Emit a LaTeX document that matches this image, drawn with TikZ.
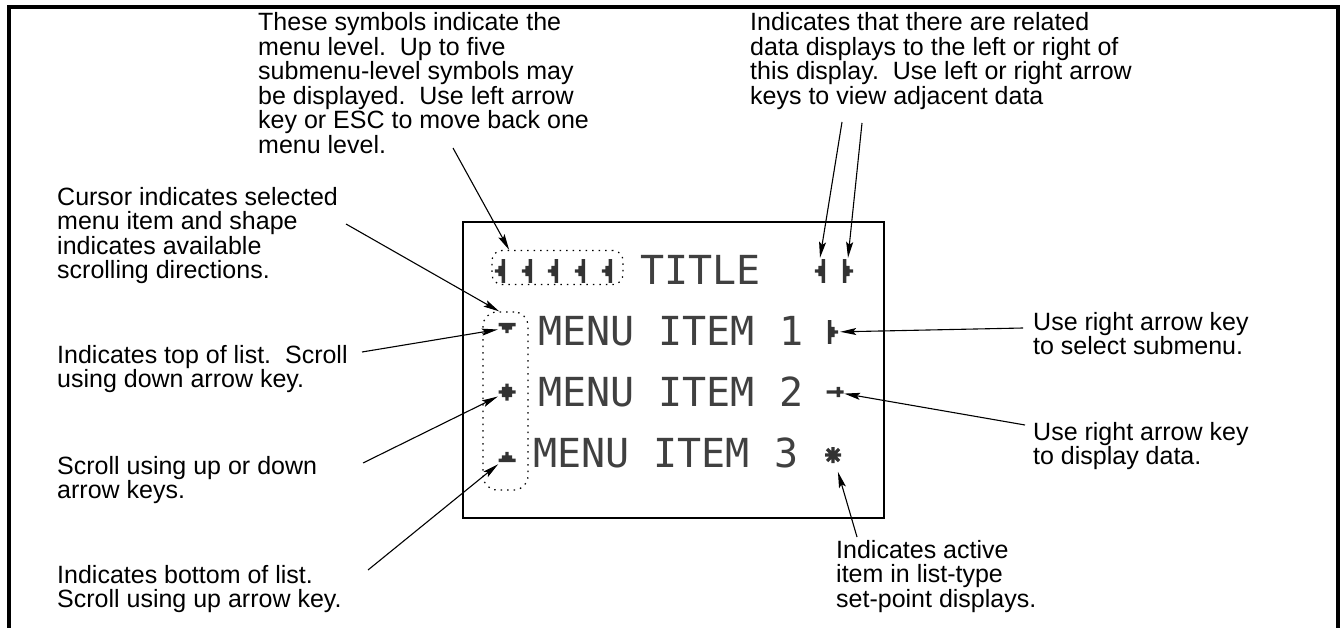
\documentclass[tikz,border=0pt]{standalone}
\usepackage{fontspec}
\setmainfont{Liberation Sans}
\newfontfamily\lcdfont{DejaVu Sans Mono}
\usetikzlibrary{arrows.meta,calc}
\tikzset{
  lcd/.style={fill=black!80},
  pics/gleft/.style={code={\fill[lcd] (-5.1,-1.7) -- (-1.7,-1.7) -- (-1.7,-5.1) -- (1.7,-5.1) -- (1.7,-11.9) -- (5.1,-11.9) -- (5.1,11.9) -- (1.7,11.9) -- (1.7,5.1) -- (-1.7,5.1) -- (-1.7,1.7) -- (-5.1,1.7) -- cycle;}},
  pics/gright/.style={code={\fill[lcd] (5.1,-1.7) -- (1.7,-1.7) -- (1.7,-5.1) -- (-1.7,-5.1) -- (-1.7,-11.9) -- (-5.1,-11.9) -- (-5.1,11.9) -- (-1.7,11.9) -- (-1.7,5.1) -- (1.7,5.1) -- (1.7,1.7) -- (5.1,1.7) -- cycle;}},
  pics/gdown/.style={code={\fill[lcd] (-8.5,-5.1) -- (8.5,-5.1) -- (8.5,-1.7) -- (5.1,-1.7) -- (5.1,1.7) -- (1.7,1.7) -- (1.7,5.1) -- (-1.7,5.1) -- (-1.7,1.7) -- (-5.1,1.7) -- (-5.1,-1.7) -- (-8.5,-1.7) -- cycle;}},
  pics/gup/.style={code={\fill[lcd] (-8.5,5.1) -- (8.5,5.1) -- (8.5,1.7) -- (5.1,1.7) -- (5.1,-1.7) -- (1.7,-1.7) -- (1.7,-5.1) -- (-1.7,-5.1) -- (-1.7,-1.7) -- (-5.1,-1.7) -- (-5.1,1.7) -- (-8.5,1.7) -- cycle;}},
  pics/gupdown/.style={code={\fill[lcd] (-1.7,-8.5) -- (1.7,-8.5) -- (1.7,-5.1) -- (5.1,-5.1) -- (5.1,-1.7) -- (8.5,-1.7) -- (8.5,1.7) -- (5.1,1.7) -- (5.1,5.1) -- (1.7,5.1) -- (1.7,8.5) -- (-1.7,8.5) -- (-1.7,5.1) -- (-5.1,5.1) -- (-5.1,1.7) -- (-8.5,1.7) -- (-8.5,-1.7) -- (-5.1,-1.7) -- (-5.1,-5.1) -- (-1.7,-5.1) -- cycle;}},
  pics/garrow/.style={code={\fill[lcd] (-8.5,-1.7) -- (1.7,-1.7) -- (1.7,-5.1) -- (5.1,-5.1) -- (5.1,-1.7) -- (8.5,-1.7) -- (8.5,1.7) -- (5.1,1.7) -- (5.1,5.1) -- (1.7,5.1) -- (1.7,1.7) -- (-8.5,1.7) -- cycle;}},
  pics/gstar/.style={code={\draw[black!80, line width=3.2pt] (-8,0) -- (8,0) (0,-8) -- (0,8) (-6,-6) -- (6,6) (-6,6) -- (6,-6);}},
}
\begin{document}
\begin{tikzpicture}[x=1pt,y=-1pt,
  lbl/.style={anchor=base west, align=left, inner sep=0pt, font=\fontsize{25}{24.5}\selectfont},
  lcdtxt/.style={anchor=west, inner sep=0pt, text=black!75, font=\lcdfont\fontsize{40}{40}\selectfont},
  arr/.style={line width=1.1pt, -{Stealth[length=16pt,width=7pt,inset=3pt]}},
  dotbox/.style={draw, line width=1.2pt, dash pattern=on 1.5pt off 5pt, rounded corners=10pt, inner sep=0pt},
  sym/.style={inner sep=0pt, minimum width=14pt, minimum height=26pt},
  csym/.style={inner sep=0pt, minimum width=18pt, minimum height=14pt}
]
\fill[white] (0,0) rectangle (1340,628);
\useasboundingbox (0,0) rectangle (1340,628);
% page frame (open at the bottom)
\draw[line width=4pt] (9,628) -- (9,7) -- (1338,7) -- (1338,628);

% display
\node[draw, line width=1.1pt, minimum width=421pt, minimum height=296pt, inner sep=0pt] (disp) at (673.5,370) {};
\node[lcdtxt] (title) at (640,270) {TITLE};
\node[lcdtxt] (item1) at (538,331) {MENU ITEM 1};
\node[lcdtxt] (item2) at (538,392) {MENU ITEM 2};
\node[lcdtxt] (item3) at (533,453) {MENU ITEM 3};

% menu-level symbols
\node[dotbox, minimum width=131pt, minimum height=34pt] (lvl) at (557.5,267.5) {};
\foreach \i/\x in {1/500,2/527,3/553,4/580,5/607}{
  \node[sym] (lv\i) at (\x,271) {};
  \pic at (lv\i) {gleft};
}
\node[sym] (rl) at (820,271) {}; \pic at (rl) {gleft};
\node[sym] (rr) at (848,271) {}; \pic at (rr) {gright};

% cursor symbols
\node[dotbox, rounded corners=14pt, minimum width=45pt, minimum height=178pt] (cur) at (505.5,401) {};
\node[csym] (c1) at (507,328) {}; \pic at (c1) {gdown};
\node[csym, minimum height=18pt] (c2) at (507,392) {}; \pic at (c2) {gupdown};
\node[csym] (c3) at (507,457) {}; \pic at (c3) {gup};

% item-end symbols
\node[sym] (sub) at (833,332) {}; \pic at (sub) {gright};
\node[csym, minimum height=12pt] (dat) at (835,392) {}; \pic at (dat) {garrow};
\node[csym, minimum height=18pt] (ast) at (833,455) {}; \pic at (ast) {gstar};

% labels (anchored at the baseline of their last line)
\node[lbl] (tA) at (258,153.5) {These symbols indicate the\\menu level.\ \ Up to five\\submenu-level symbols may\\be displayed.\ \ Use left arrow\\key or ESC to move back one\\menu level.};
\node[lbl] (tB) at (750,104.5) {Indicates that there are related\\data displays to the left or right of\\this display.\ \ Use left or right arrow\\keys to view adjacent data};
\node[lbl] (tC) at (57,278.5) {Cursor indicates selected\\menu item and shape\\indicates available\\scrolling directions.};
\node[lbl] (tD) at (57,387.5) {Indicates top of list.\ \ Scroll\\using down arrow key.};
\node[lbl] (tE) at (57,498.5) {Scroll using up or down\\arrow keys.};
\node[lbl] (tF) at (57,607.5) {Indicates bottom of list.\\Scroll using up arrow key.};
\node[lbl] (tG) at (1033,354.5) {Use right arrow key\\to select submenu.};
\node[lbl] (tH) at (1033,464.5) {Use right arrow key\\to display data.};
\node[lbl] (tI) at (836,607) {Indicates active\\item in list-type\\set-point displays.};

% connector start points
\coordinate (s1) at (453,148);
\coordinate (s2) at (842,122);
\coordinate (s3) at (862,123);
\coordinate (s4) at (346,224);
\coordinate (s5) at (362,352);
\coordinate (s6) at (363,463);
\coordinate (s7) at (368,570);
\coordinate (s8) at (1023,328);
\coordinate (s9) at (1025,425);
\coordinate (s10) at (857,537);

\draw[arr] (s1) -- (lvl.160);
\draw[arr] (s2) -- (rl.north);
\draw[arr] (s3) -- (rr.north);
\draw[arr] (s4) -- (cur.94);
\draw[arr] (s5) -- (c1);
\draw[arr] (s6) -- (c2);
\draw[arr] (s7) -- (c3);
\draw[arr] (s8) -- (sub);
\draw[arr] (s9) -- (dat);
\draw[arr, shorten >=8pt] (s10) -- (ast);
\end{tikzpicture}
\end{document}
